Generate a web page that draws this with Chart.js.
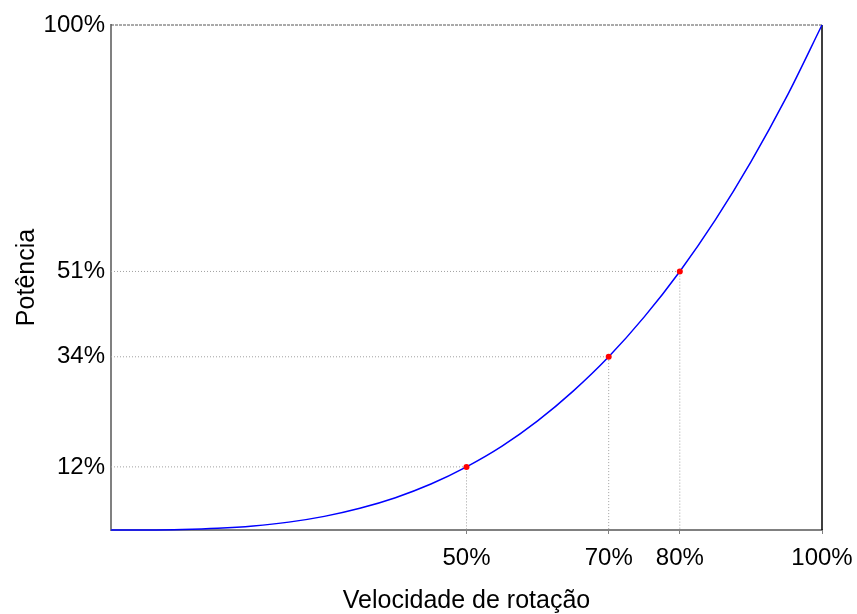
<!DOCTYPE html>
<html lang="pt">
<head>
    <meta charset="UTF-8">
    <title>Potência x Velocidade de rotação</title>
    <script src="https://cdn.jsdelivr.net/npm/chart.js@4.4.0/dist/chart.umd.min.js"></script>
    <style>
        html, body { margin: 0; padding: 0; background: #fff; }
        #wrap { position: relative; width: 857px; height: 614px; }
    </style>
</head>
<body>
<div id="wrap"><canvas id="chart"></canvas></div>
<script>
    // curve (speed % -> power %)
    const speed = [0, 5, 10, 15, 20, 25, 30, 35, 40, 45, 50, 55, 60, 65, 70, 75, 80, 85, 90, 95, 100];
    const power = [0, 0.01, 0.1, 0.34, 0.8, 1.56, 2.7, 4.3, 6.4, 9.1, 12.5, 16.6, 21.6, 27.5, 34.3, 42.2, 51.2, 61.4, 72.9, 85.7, 100];

    // marked points
    const markSpeed = [50, 70, 80];
    const markPower = [12.5, 34.3, 51.2];

    // tick labels
    const xTickVals = [50, 70, 80, 100];
    const xTickLabels = ['50%', '70%', '80%', '100%'];
    const yTickVals = [12.5, 34.3, 51.2, 100];
    const yTickLabels = ['12%', '34%', '51%', '100%'];

    const font = "'Liberation Sans', Arial, sans-serif";

    const curve = speed.map((s, i) => ({x: s, y: power[i]}));
    const marks = markSpeed.map((s, i) => ({x: s, y: markPower[i]}));

    const guides = markSpeed.map((s, i) => ({
        data: [{x: 0, y: markPower[i]}, {x: s, y: markPower[i]}, {x: s, y: 0}],
        borderColor: '#a0a0a0',
        borderWidth: 1,
        borderDash: [1, 2],
        pointRadius: 0,
        clip: false
    }));

    const datasets = [
        {   // red dots
            data: marks,
            showLine: false,
            pointRadius: 3,
            pointBackgroundColor: '#ff0000',
            pointBorderColor: '#ff0000',
            pointBorderWidth: 0,
            clip: false
        },
        {   // cubic curve
            data: curve,
            borderColor: '#0000ff',
            borderWidth: 1.5,
            pointRadius: 0,
            cubicInterpolationMode: 'monotone',
            clip: false
        },
        {   // top line at 100%
            data: [{x: 0, y: 100}, {x: 100, y: 100}],
            borderColor: '#555555',
            borderWidth: 1,
            borderDash: [3, 1],
            pointRadius: 0,
            clip: false
        },
        {   // right line at 100%
            data: [{x: 100, y: 100}, {x: 100, y: 0}],
            borderColor: '#000000',
            borderWidth: 1.5,
            pointRadius: 0,
            clip: false
        }
    ].concat(guides);

    function pick(vals, labels) {
        return function (v) {
            const i = vals.indexOf(v);
            return i >= 0 ? labels[i] : '';
        };
    }

    new Chart(document.getElementById('chart'), {
        type: 'line',
        data: { datasets: datasets },
        options: {
            responsive: true,
            maintainAspectRatio: false,
            animation: false,
            layout: { padding: { left: 0, right: 35, top: 25, bottom: 0 } },
            plugins: { legend: { display: false }, tooltip: { enabled: false } },
            scales: {
                x: {
                    type: 'linear',
                    min: 0,
                    max: 100,
                    afterBuildTicks: s => { s.ticks = xTickVals.map(v => ({value: v})); },
                    afterFit: s => { s.height = 84; s.paddingRight = 0; s.paddingLeft = 0; },
                    border: { display: true, color: '#808080', width: 2 },
                    grid: { display: true, drawOnChartArea: false, drawTicks: true, tickLength: 4, color: '#808080' },
                    ticks: {
                        autoSkip: false,
                        maxRotation: 0,
                        padding: 10,
                        color: '#000',
                        font: { family: font, size: 24 },
                        callback: pick(xTickVals, xTickLabels)
                    },
                    title: {
                        display: true,
                        text: 'Velocidade de rotação',
                        color: '#000',
                        font: { family: font, size: 25, lineHeight: 1 },
                        padding: { top: 0, bottom: 0 }
                    }
                },
                y: {
                    type: 'linear',
                    min: 0,
                    max: 100,
                    afterBuildTicks: s => { s.ticks = yTickVals.map(v => ({value: v})); },
                    afterFit: s => { s.width = 111; s.paddingTop = 0; s.paddingBottom = 0; },
                    border: { display: true, color: '#808080', width: 2 },
                    grid: { display: true, drawOnChartArea: false, drawTicks: false },
                    ticks: {
                        autoSkip: false,
                        padding: 6,
                        color: '#000',
                        font: { family: font, size: 24 },
                        callback: pick(yTickVals, yTickLabels)
                    },
                    title: {
                        display: true,
                        text: 'Potência',
                        color: '#000',
                        font: { family: font, size: 25, lineHeight: 1 },
                        padding: { top: 15, bottom: 0 }
                    }
                }
            }
        }
    });
</script>
</body>
</html>
